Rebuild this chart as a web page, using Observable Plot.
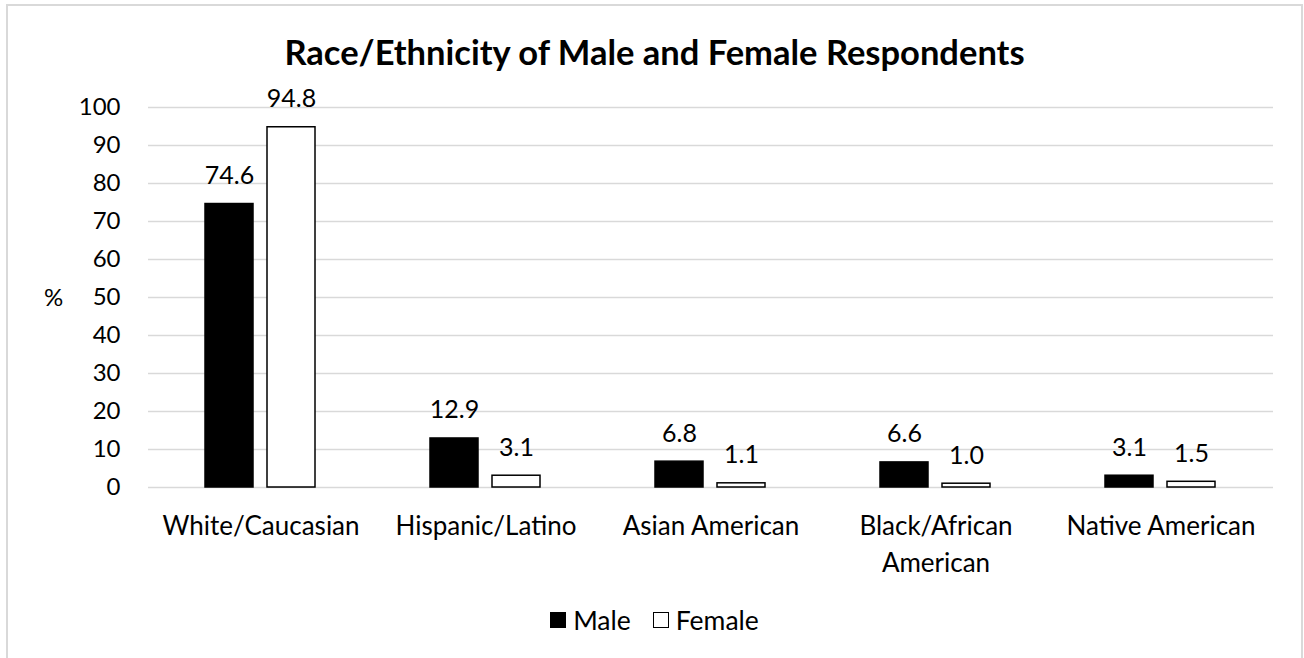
<!DOCTYPE html>
<html>
<head>
<meta charset="utf-8">
<script src="https://cdn.jsdelivr.net/npm/d3@7"></script>
<script src="https://cdn.jsdelivr.net/npm/@observablehq/plot@0.6"></script>
<style>
  body { margin: 0; background: #fff; font-family: Lato, "Open Sans", sans-serif; color: #000; }
  #wrap { position: relative; width: 1304px; height: 658px; overflow: hidden; background: #fff; }
  #border { position: absolute; left: 6px; top: 4px; width: 1297px; height: 720px; border: 2px solid #d9d9d9; box-sizing: border-box; }
  #title { position: absolute; left: 6px; width: 1297px; top: 32px; text-align: center; font-weight: 700; font-size: 34.5px; line-height: 40px; white-space: nowrap; }
  #chart { position: absolute; left: 0; top: 76px; }
  #pct { position: absolute; left: 44px; top: 283px; font-size: 24px; line-height: 28px; }
  #legend { position: absolute; left: 6px; width: 1297px; top: 605px; display: flex; justify-content: center; align-items: center; font-size: 26.5px; line-height: 30px; }
  .item { display: flex; align-items: center; margin: 0 11px; }
  .sw { width: 16px; height: 16px; box-sizing: border-box; margin-right: 7px; }
</style>
</head>
<body>
<div id="wrap">
  <div id="border"></div>
  <div id="title"></div>
  <div id="chart"></div>
  <div id="pct"></div>
  <div id="legend"></div>
</div>
<script>
const titleText = "Race/Ethnicity of Male and Female Respondents";
const yLabel = "%";
const categories = ["White/Caucasian", "Hispanic/Latino", "Asian American", "Black/African American", "Native American"];
const series = ["Male", "Female"];
const maleValues = [74.6, 12.9, 6.8, 6.6, 3.1];
const femaleValues = [94.8, 3.1, 1.1, 1.0, 1.5];
const yTicks = [0, 10, 20, 30, 40, 50, 60, 70, 80, 90, 100];
const seriesColors = ["#000000", "#ffffff"];

const data = categories.flatMap((c, i) => [
  {category: c, sex: series[0], value: maleValues[i]},
  {category: c, sex: series[1], value: femaleValues[i]}
]);

document.getElementById("title").textContent = titleText;
document.getElementById("pct").textContent = yLabel;

const wrapLabel = d => d === "Black/African American" ? "Black/African\nAmerican" : d;

const chart = Plot.plot({
  width: 1304,
  height: 524,
  marginLeft: 148,
  marginRight: 31,
  marginTop: 31,
  marginBottom: 113,
  style: {fontFamily: "Lato, 'Open Sans', sans-serif", fontSize: "24px", color: "#000", background: "transparent", overflow: "visible"},
  fx: {domain: categories, padding: 0, label: null},
  x: {domain: series, paddingInner: 0.22, paddingOuter: 0.9, axis: null},
  y: {domain: [0, 100], label: null},
  color: {domain: series, range: seriesColors},
  marks: [
    Plot.gridY(yTicks, {stroke: "#d9d9d9", strokeOpacity: 1, strokeWidth: 1.5}),
    Plot.axisY({ticks: yTicks, tickSize: 0, tickPadding: 28, fontSize: 24, label: null}),
    Plot.axisFx({anchor: "bottom", tickSize: 0, tickPadding: 22, fontSize: 26, lineHeight: 1.4, label: null, tickFormat: wrapLabel}),
    Plot.barY(data, {fx: "category", x: "sex", y: "value", fill: "sex", stroke: "#000", strokeWidth: 1.5}),
    Plot.text(data, {fx: "category", x: "sex", y: "value", text: d => d.value.toFixed(1), lineAnchor: "bottom", dy: -20, fontSize: 25, fill: "#000"})
  ]
});
document.getElementById("chart").appendChild(chart);

const legend = document.getElementById("legend");
series.forEach((s, i) => {
  const item = document.createElement("div");
  item.className = "item";
  const sw = document.createElement("span");
  sw.className = "sw";
  sw.style.background = seriesColors[i];
  sw.style.border = i === 0 ? "none" : "1.5px solid #000";
  const label = document.createElement("span");
  label.textContent = s;
  item.appendChild(sw);
  item.appendChild(label);
  legend.appendChild(item);
});
</script>
</body>
</html>
